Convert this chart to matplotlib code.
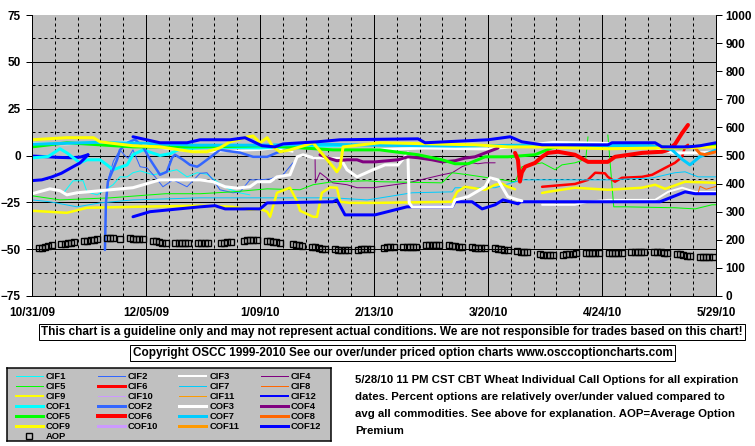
import matplotlib
matplotlib.use("Agg")
import matplotlib.pyplot as plt
from matplotlib import font_manager as fm
from matplotlib.lines import Line2D

# ---------------- fonts ----------------
def has_font(name):
    try:
        fm.findfont(fm.FontProperties(family=name), fallback_to_default=False)
        return True
    except Exception:
        return False

FONT = "Liberation Sans Narrow" if has_font("Liberation Sans Narrow") else "Liberation Sans"
plt.rcParams["font.family"] = [FONT, "DejaVu Sans"]
plt.rcParams["font.weight"] = "bold"

# ---------------- data ----------------
date_labels = ["10/31/09", "12/05/09", "1/09/10", "2/13/10", "3/20/10", "4/24/10", "5/29/10"]
date_days = [0, 35, 70, 105, 140, 175, 210]

# day offsets since 10/31/09, value in percent (left axis)
cif1_days = [9.5, 12.6, 15.7, 16.9, 20, 24.9, 27, 29.2, 31, 33.2, 37.2, 40.2, 44.5, 47.6, 50.7, 53.7, 56.8, 59.9, 63.9, 66.9]
cif1_vals = [-20.4, -13.5, -13.5, -19.4, -21, -15.6, -11.4, -11.4, -9.2, -8.2, -10.3, -9.2, -7.6, -11.4, -9.2, -10, -14, -17.5, -20, -21]

cif2_days = [22.7, 23.5, 25, 27, 28.5, 29.5, 31, 33.2, 35.3, 37.8, 40.2, 43.3, 47.6, 51.6, 53.7, 55.6, 57.7, 61.7, 63.9, 66.9, 70, 73.1, 77.1, 80.1]
cif2_vals = [-25, -12, -3, 3, 0, -1.5, 3, -6, -6.6, -11.4, -16.7, -13, -16.7, -9.5, -9.2, -13, -18.3, -19.9, -19.4, -13, -13, -12.5, -10.3, -3.9]

cif3_days = [156.6, 166.7, 170.7, 176.8, 191.3, 195.3, 199.6, 203.6, 210]
cif3_vals = [-26.3, -26.3, -24.7, -23.7, -23.7, -19.4, -17.2, -19.4, -19.4]

cif3_top_days = [0, 10, 20, 30, 40, 47, 55, 62, 70, 75, 80]
cif3_top_vals = [6.5, 6, 6.5, 7.5, 4, 2.5, 2, 2.5, 3, 4, 2]

cif4_days = [86.9, 87, 88.4, 92.4, 96.7, 99.8, 104.7, 115.4, 125.9, 129, 132, 135.1, 136.9, 139.1, 142.2]
cif4_vals = [-0.7, -14.6, -9.2, -14.6, -15.6, -17.2, -17.2, -14.6, -10.3, -9.2, -6, -3.9, -4.4, -3.9, -3.9]

cif5_days = [0, 8.6, 24, 41, 51.6, 61.7, 72.2, 82.3, 86.3, 92.4, 102.9, 106.8, 125.9, 129, 133.9, 148.3, 150.4, 156.6, 160.6, 162.7, 166.7, 170, 170.7]
cif5_vals = [-21.5, -23.7, -22.6, -20.4, -20.4, -19.4, -17.8, -18.3, -15.6, -14, -13.5, -14, -14.6, -9.2, -10.3, -14, -6, -3.9, -7.6, -5, -3.9, -2, 10]
cif5_late_days = [176.8, 178.6, 182.1, 197.4, 203.6, 208.8, 210]
cif5_late_vals = [11, -27.4, -27.4, -27.9, -28.5, -26.3, -26.3]

cif6_days = [156.6, 166.7, 170.7, 172.9, 175.9, 176.8, 179, 181.1, 187.3, 190.4, 194.4, 197.4, 199.6, 200.5, 201.4]
cif6_vals = [-16.7, -15.2, -13, -9.2, -9.5, -11.4, -14, -11.9, -11.4, -10.3, -6.6, -3.9, -0.7, 4.6, 5.7]

cif7_days = [0, 5.5, 13.8, 20.9, 31, 51.6, 72.2, 92.4, 102.9, 105.3, 116.7, 129, 129.9, 142.2, 150.4, 176.8, 190.4, 197.4, 200.5, 204.5, 210]
cif7_vals = [-23.7, -24.7, -27.4, -25.3, -23.7, -22.6, -22.6, -22.6, -23.7, -23.1, -19.9, -19.4, -17.2, -17.2, -13, -13, -12, -9.2, -8.7, -11.4, -11.4]

cif8_days = [204.5, 205.1, 207, 210]
cif8_vals = [-20, -16.5, -18, -16.5]

cif9_days = [0, 10.7, 16.9, 31, 51.6, 61.7, 66.9, 70, 72.2, 73.1, 75.2, 79.2, 81.4, 82.3, 86.3, 87.5, 89, 91.5, 93.6, 94.6, 97.6, 105.3, 129, 130.5, 132.9, 139.1, 142.2, 144.3, 146.1, 148.3]
cif9_vals = [-29.5, -30.6, -27.9, -27.4, -26.8, -27.4, -29, -28.5, -30, -32.7, -19.9, -17.2, -24.5, -29.5, -32.7, -32.7, -19.9, -17, -17.2, -24.7, -25.3, -25.3, -24.7, -19.4, -16.7, -18.3, -15.6, -15, -16.7, -18]
cif9_late_days = [156.6, 158.4, 166.7, 176.8, 187.3, 191.3, 194.4, 200.5, 210]
cif9_late_vals = [-20, -19.4, -17.2, -18.3, -17.2, -15.6, -17.8, -14, -14.6]

cif12_days = [31, 36.2, 51.6, 56.2, 59.3, 70, 72.2, 92.4, 93.6, 96.1, 105.3, 115.1, 129, 129.9, 135.1, 138.2, 142.2, 144.6, 149.2, 150, 192.8, 200.5, 203.6, 210]
cif12_vals = [-32.7, -30, -27.4, -26.8, -28.5, -28.5, -25.3, -24.7, -23.7, -31.7, -31.7, -27.4, -27.4, -24.7, -24.7, -28.5, -26.3, -23.7, -25.8, -24.7, -24.7, -19.4, -20.4, -20.4]
cif12_early_days = [0, 4, 8, 12, 15, 17.2]
cif12_early_vals = [-0.3, -0.6, -1, -1.2, -0.8, 0.4]

cof1_days = [0, 5, 8.6, 10.7, 14.7, 16.9, 20.9, 23, 24.9, 29.2, 31, 34.1, 39.3, 42.4, 45.4, 55, 70, 85, 100]
cof1_vals = [-1.3, -0.5, 3.6, 1.4, -3.9, -2.3, -2.3, -5, -7.6, -5, 0.4, 3, 0, 1, 3.5, 4.5, 4, 5, 5.5]

cof2_days = [22.4, 22.7, 23.3, 24.6, 26.1, 27, 29.5, 31.6, 34.1, 36.2, 39.3, 41.4, 43, 43.9, 46.4, 48.5, 50.7, 51.6, 53.7, 57.7, 63.9, 67.9, 72.2, 75.2, 80.1]
cof2_vals = [-50.4, -25, -14, -8.7, -2.3, 3, 7, 8.5, 4.6, -2, -10.3, -8.7, -1.2, 0.4, -2.3, -5, -6, -5, -2.3, 3, 1.5, -0.7, -0.7, 1.5, 4]

cof3_days = [0, 5.5, 8.6, 10.7, 13.8, 20.9, 31, 39.3, 47.6, 51.6, 55.6, 59.3, 62.9, 66.9, 69.1, 73.1, 75.2, 79.2, 81.4, 83.2, 86.3, 94.6, 96.7, 99.8, 104.7, 108.4, 112.4, 114.5, 115.4, 115.8, 116.7, 129, 129.9, 133.9, 139.1, 140.6, 143.1, 144.3, 146.1, 149.2, 150.4]
cof3_vals = [-20.4, -17.8, -18.8, -21, -19.9, -18.8, -17.2, -13, -13, -13, -14, -16.7, -17.4, -16.7, -14, -14, -11.4, -10.3, -0.7, 0.4, -1.2, -1.2, -7.6, -11.4, -7.6, -5, -5, -0.7, 1.4, -25.3, -27.4, -27.4, -23.7, -22, -16.7, -11.9, -13, -16.7, -22, -23.7, -24.2]
cof3_top_days = [105, 120, 140, 150, 160, 175, 190, 197, 205, 210]
cof3_top_vals = [3, 4, 3.5, 5, 7, 6.5, 5, 1.4, 1.4, 2]

cof4_days = [88.4, 90.6, 93.6, 96.7, 99.8, 101.6, 105.3, 112.4, 115.4, 118.5, 122.8, 125.9, 129.9, 132.9, 136, 143.1]
cof4_vals = [0.4, -1.2, -2.8, -2.3, -2.3, -3.4, -3.4, -2.3, -0.7, -1.2, -2.3, -3.4, -2.8, -1.4, -0.7, 4]

cof5_days = [0, 10.7, 31, 51.6, 72.2, 82.3, 92.4, 106.8, 118.5, 125.9, 129.9, 133.9, 139.1, 146.1, 154.4, 159.7, 165, 190, 199, 205, 210]
cof5_vals = [4.6, 6.8, 4.6, 4.6, 5.2, 4.1, 3, 3, 0.4, -2.3, -4.4, -4.4, -0.7, -0.7, 0.4, 4.1, 5.5, 5, 4, 5, 6]

cof6_days = [148.3, 149.2, 149.8, 150.4, 151.4, 154.4, 156.6, 158.4, 161.5, 166.7, 170.7, 176.8, 179, 187.3, 193.4, 195.3, 197.4, 199.6, 201.4]
cof6_vals = [1.4, -2.3, -13.9, -9, -6, -4, -0.7, 1.4, 2, 0.4, -3.4, -3.4, -0.7, 1.4, 2, 3, 6, 12, 16.3]

cof7_days = [0, 20, 35, 50, 70, 90, 105, 130, 150, 170, 190, 196.5, 199.6, 202, 205, 210]
cof7_vals = [6, 7, 6.5, 5.5, 5.5, 6, 5.5, 5, 5.5, 5.5, 5.2, 3, -2, -5, -0.7, 3]

cof8_days = [203.6, 205.1, 206.6, 210]
cof8_vals = [4, 1, 0.5, 2]

cof9_days = [0, 10.7, 18.9, 20.9, 31, 39.3, 49.4, 53.7, 57.7, 60.8, 66, 67.9, 70, 72.2, 74, 76.1, 79.2, 82.3, 86.3, 92.4, 93.6, 94.6, 95.5, 98.6, 106.8, 136, 146.1, 156.6, 176.8, 197.4, 210]
cof9_vals = [8.4, 9.5, 9.5, 7.3, 5.2, 4.6, 2, 2, 4.1, 7.3, 9.9, 10.4, 6.8, 9.5, 4.6, 2, 3, 4.6, 6.8, -6, -8.7, -6, 4.6, 5.2, 6.8, 5.7, 4.6, 4.6, 3.6, 4.1, 4.6]

cof12_days = [31, 39.3, 47.6, 51.6, 60.8, 65.4, 70.6, 74.6, 77.1, 87.5, 94.6, 118.5, 120.7, 140, 146.8, 150.4, 156.6, 176.8, 178.1, 191.3, 193.4, 201.4, 205.1, 210]
cof12_vals = [10, 6.8, 6.8, 8.4, 8.4, 9.5, 5.2, 4.6, 6.2, 7.3, 8.4, 8.9, 6.8, 8.4, 10, 7.3, 5.7, 5.7, 6.8, 6.8, 4.6, 4.6, 5.2, 6.8]
cof12_early_days = [0, 3, 6, 9, 12.6, 14.7, 15.7, 17.2]
cof12_early_vals = [-13.4, -13, -11.5, -9.5, -6, -4, -2.3, 0.4]

# Average option premium (right axis), one list per trading week (Mon..Fri), None = holiday
aop_weeks = [
    [170, 172, 175, 178, 180], [184, 186, 189, 190, 191], [194, 197, 199, 201, 203],
    [207, 206, 205, None, 204], [205, 204, 203, 203, 202], [197, 194, 192, 190, 189],
    [189, 189, 188, 188, 188], [190, 189, 188, 187, None], [188, 190, 192, 193, None],
    [196, 198, 199, 199, 198], [196, 194, 192, 191, 190], [None, 184, 181, 180, 179],
    [175, 173, 171, 169, 168], [166, 164, 163, 162, 163], [165, 166, 167, 168, 169],
    [None, 172, 174, 175, 175], [175, 175, 174, 174, 174], [182, 183, 181, 180, 180],
    [180, 179, 177, 176, 175], [173, 172, 171, 170, 170], [170, 168, 167, 165, 164],
    [160, 158, 157, 155, None], [150, 147, 146, 145, 146], [147, 148, 149, 151, 152],
    [153, 153, 154, 153, 153], [153, 154, 154, 153, 152], [155, 156, 157, 156, 155],
    [158, 157, 155, 154, 152], [150, 148, 146, 144, 142], [140, 139, 139, 139, 140],
]
aop_first_monday = 2

legend_names = ["CIF1", "CIF2", "CIF3", "CIF4", "CIF5", "CIF6", "CIF7", "CIF8", "CIF9", "CIF10", "CIF11", "CIF12",
                "COF1", "COF2", "COF3", "COF4", "COF5", "COF6", "COF7", "COF8", "COF9", "COF10", "COF11", "COF12"]
month_colors = ["#00FFFF", "#3366FF", "#FFFFFF", "#800080", "#00FF00", "#FF0000",
                "#00CCFF", "#FF6600", "#FFFF00", "#CC99FF", "#FF9900", "#0000FF"]
cif_px = [1, 1, 2, 1, 1, 3, 1, 1, 2, 1, 1, 2]
cof_px = [3, 3, 3, 3, 3, 4, 3, 3, 3, 3, 3, 3]

disclaimer = "This chart is a guideline only and may not represent actual conditions. We are not responsible for trades based on this chart!"
copyright_txt = "Copyright OSCC 1999-2010 See our over/under priced option charts www.osccoptioncharts.com"
note_lines = ["5/28/10 11 PM CST CBT Wheat Individual Call Options for all expiration",
              "dates. Percent options are relatively over/under valued compared to",
              "avg all commodities. See above for explanation. AOP=Average Option",
              "Premium"]

# ---------------- figure ----------------
W, H = 755, 446
PX = 0.72  # points per pixel at 100 dpi
fig = plt.figure(figsize=(W / 100, H / 100), dpi=100, facecolor="white")

# size the font so the disclaimer is as wide as in the reference (~698 px)
probe = fig.text(0, 0, disclaimer, fontsize=10, fontweight="bold")
fig.canvas.draw()
FS = 10 * 698 / probe.get_window_extent().width
probe.remove()
LFS = FS * 0.8  # legend text

def fx(px):
    return px / W

def fy(py):
    return 1 - py / H

ax = fig.add_axes([fx(32), fy(296), (716 - 32) / W, (296 - 15) / H])
ax.set_facecolor("#C0C0C0")
ax.set_xlim(0, 210)
ax.set_ylim(-75, 75)

# grid
for d in range(7, 210, 7):
    if d % 35 == 0:
        ax.axvline(d, color="black", lw=1 * PX, zorder=0.5)
    else:
        ax.axvline(d, color="black", lw=1 * PX, ls=(0, (3, 3)), zorder=0.5)
for v in [-62.5, -50, -37.5, -25, -12.5, 0, 12.5, 25, 37.5, 50, 62.5]:
    if v % 25 == 0:
        ax.axhline(v, color="black", lw=1 * PX, zorder=0.5)
    else:
        ax.axhline(v, color="black", lw=1 * PX, ls=(0, (3, 3)), zorder=0.5)

ax.set_xticks(date_days)
ax.set_xticklabels(date_labels)
ax.set_yticks([-75, -50, -25, 0, 25, 50, 75])
ax.tick_params(axis="x", length=0, pad=8, labelsize=FS)
ax.tick_params(axis="y", length=4, width=1 * PX, direction="out", pad=4, labelsize=FS)
for lab in ax.get_xticklabels() + ax.get_yticklabels():
    lab.set_fontweight("bold")
ax.spines["top"].set_visible(False)
for s in ["left", "bottom", "right"]:
    ax.spines[s].set_color("black")
    ax.spines[s].set_linewidth(1 * PX)

def draw(days, vals, color, px):
    ax.plot(days, vals, color=color, lw=px * PX, solid_joinstyle="round", solid_capstyle="round")

# CIF series (thin), then COF series (thick) — order as Excel draws
draw(cif1_days, cif1_vals, month_colors[0], cif_px[0])
draw(cif2_days, cif2_vals, month_colors[1], cif_px[1])
draw(cif3_days, cif3_vals, month_colors[2], cif_px[2])
draw(cif3_top_days, cif3_top_vals, month_colors[2], cif_px[2])
draw(cif4_days, cif4_vals, month_colors[3], cif_px[3])
draw(cif5_days, cif5_vals, month_colors[4], cif_px[4])
draw(cif5_late_days, cif5_late_vals, month_colors[4], cif_px[4])
draw(cif6_days, cif6_vals, month_colors[5], 2.5)
draw(cif7_days, cif7_vals, month_colors[6], cif_px[6])
draw(cif8_days, cif8_vals, month_colors[7], cif_px[7])
draw(cif9_days, cif9_vals, month_colors[8], 2.5)
draw(cif9_late_days, cif9_late_vals, month_colors[8], 2.5)
draw(cif12_days, cif12_vals, month_colors[11], 3)
draw(cif12_early_days, cif12_early_vals, month_colors[11], 3)

draw(cof1_days, cof1_vals, month_colors[0], cof_px[0])
draw(cof2_days, cof2_vals, month_colors[1], 2.5)
draw(cof3_days, cof3_vals, month_colors[2], cof_px[2])
draw(cof3_top_days, cof3_top_vals, month_colors[2], cof_px[2])
draw(cof4_days, cof4_vals, month_colors[3], cof_px[3])
draw(cof5_days, cof5_vals, month_colors[4], cof_px[4])
draw(cof6_days, cof6_vals, month_colors[5], cof_px[5])
draw(cof7_days, cof7_vals, month_colors[6], cof_px[6])
draw(cof8_days, cof8_vals, month_colors[7], cof_px[7])
draw(cof9_days, cof9_vals, month_colors[8], cof_px[8])
draw(cof12_days, cof12_vals, month_colors[11], cof_px[11])
draw(cof12_early_days, cof12_early_vals, month_colors[11], cof_px[11])

# right axis with AOP
ax2 = ax.twinx()
ax2.set_ylim(0, 1000)
ax2.set_yticks(range(0, 1001, 100))
ax2.tick_params(axis="y", length=4, width=1 * PX, direction="out", pad=3, labelsize=FS)
for lab in ax2.get_yticklabels():
    lab.set_fontweight("bold")
for s in ["top", "left", "bottom"]:
    ax2.spines[s].set_visible(False)
ax2.spines["right"].set_linewidth(1 * PX)

aop_days, aop_vals = [], []
for wk, week in enumerate(aop_weeks):
    for wd, val in enumerate(week):
        if val is not None:
            aop_days.append(aop_first_monday + 7 * wk + wd)
            aop_vals.append(val)
ax2.plot(aop_days, aop_vals, ls="none", marker="s", ms=5, mfc="none", mec="black", mew=1.0)

# ---------------- text boxes ----------------
fig.text(fx(392), fy(332), disclaimer, ha="center", va="center", fontsize=FS, fontweight="bold",
         bbox=dict(boxstyle="square,pad=0.2", fc="white", ec="black", lw=1 * PX))
fig.text(fx(402.5), fy(353), copyright_txt, ha="center", va="center", fontsize=FS, fontweight="bold",
         bbox=dict(boxstyle="square,pad=0.2", fc="white", ec="black", lw=1 * PX))

for i, line in enumerate(note_lines):
    fig.text(fx(355), fy(380 + 17 * i), line, ha="left", va="center", fontsize=FS * 0.97, fontweight="bold")

# ---------------- legend ----------------
lx0, ly0, lw_, lh_ = 7, 368, 324, 73
lax = fig.add_axes([fx(lx0), fy(ly0 + lh_), lw_ / W, lh_ / H])
lax.set_xlim(0, lw_)
lax.set_ylim(lh_, 0)
lax.set_facecolor("#C0C0C0")
lax.set_xticks([])
lax.set_yticks([])
for s in lax.spines.values():
    s.set_color("black")
    s.set_linewidth(1.5 * PX)

col_x = [9, 90.7, 172.4, 254.1]
row_y = [7.7, 17.7, 27.7, 37.7, 47.7, 57.7]
for idx, name in enumerate(legend_names):
    r, c = divmod(idx, 4)
    m = idx % 12
    px = cif_px[m] if idx < 12 else cof_px[m]
    lax.add_line(Line2D([col_x[c], col_x[c] + 27], [row_y[r], row_y[r]], color=month_colors[m], lw=px * PX))
    lax.text(col_x[c] + 30, row_y[r] + 0.5, name, ha="left", va="center", fontsize=LFS, fontweight="bold")
lax.plot([22], [68], ls="none", marker="s", ms=4.5, mfc="none", mec="black", mew=1.0)
lax.text(col_x[0] + 30, 68.3, "AOP", ha="left", va="center", fontsize=LFS, fontweight="bold")

fig.savefig("out.png", dpi=100, facecolor="white")
